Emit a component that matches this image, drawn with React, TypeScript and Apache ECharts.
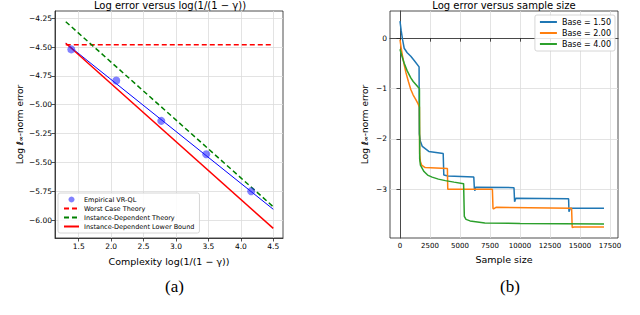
import React, { useEffect, useRef } from "react";
import * as echarts from "echarts";

// ---- Panel (a) data ----
const empX = [1.386, 2.079, 2.773, 3.466, 4.159];
const empY = [-4.52, -4.79, -5.14, -5.43, -5.75];
const lineX = [1.3, 4.5];
const fitY = [-4.467, -5.907];
const worstY = [-4.48, -4.48];
const instY = [-4.28, -5.885];
const lowerY = [-4.467, -6.072];
const aXTicks = [1.5, 2.0, 2.5, 3.0, 3.5, 4.0, 4.5];
const aYTicks = [-6.0, -5.75, -5.5, -5.25, -5.0, -4.75, -4.5, -4.25];

// ---- Panel (b) data ----
const b15X = [0, 100, 215, 350, 600, 900, 1200, 1590, 1610, 1700, 1860, 2400, 3000, 3600, 3650, 4000, 6150, 6200, 6250, 6300, 9500, 9550, 9650, 14050, 14080, 14200, 17000];
const b15Y = [0.34, 0.15, -0.03, -0.2, -0.29, -0.36, -0.45, -0.57, -1.9, -2.05, -2.15, -2.25, -2.27, -2.29, -2.72, -2.74, -2.76, -3.0, -3.03, -2.96, -2.97, -3.25, -3.18, -3.19, -3.45, -3.38, -3.38];
const b20X = [0, 100, 215, 350, 500, 700, 900, 1100, 1320, 1500, 1620, 1640, 1700, 1800, 2100, 3000, 3950, 3980, 7700, 7750, 7800, 8000, 14300, 14350, 14500, 17000];
const b20Y = [-0.03, -0.2, -0.36, -0.53, -0.69, -0.86, -1.02, -1.13, -1.22, -1.3, -1.37, -2.3, -2.45, -2.52, -2.57, -2.58, -2.59, -3.0, -3.0, -3.38, -3.39, -3.36, -3.38, -3.76, -3.75, -3.75];
const b40X = [0, 150, 350, 600, 900, 1100, 1320, 1500, 1620, 1640, 1700, 2000, 2300, 2680, 3200, 3780, 4500, 5300, 5360, 5500, 5840, 7070, 10000, 17000];
const b40Y = [-0.22, -0.35, -0.5, -0.65, -0.79, -0.86, -0.92, -0.97, -1.0, -2.4, -2.52, -2.65, -2.72, -2.76, -2.8, -2.83, -2.86, -2.89, -3.54, -3.6, -3.63, -3.67, -3.68, -3.69];
const bXTicks = [0, 2500, 5000, 7500, 10000, 12500, 15000, 17500];
const bYTicks = [-3, -2, -1, 0];

const zip = (xs: number[], ys: number[]) => xs.map((x, i) => [x, ys[i]]);
const minus = (s: string) => s.replace("-", "\u2212");

const FONT = "DejaVu Sans";

export default function App() {
  const ref = useRef<HTMLDivElement>(null);
  useEffect(() => {
    document.body.style.margin = "0";
    const chart = echarts.init(ref.current!, null, { renderer: "svg" });
    const gridLine = { show: true, lineStyle: { color: "#dcdcdc", width: 0.8 } };
    const tick = { show: true, inside: false, length: 3.5, lineStyle: { color: "#222", width: 0.8 } };
    const axLine = { show: true, lineStyle: { color: "#222", width: 0.8 } };
    const yName = "Log {l|\u2113}{s|\u221e}-norm error";
    const yNameStyle = (fs: number) => ({
      fontFamily: FONT,
      fontSize: fs,
      color: "#000",
      rich: {
        l: { fontSize: fs, fontWeight: "bold", fontStyle: "italic", fontFamily: FONT, color: "#000" },
        s: { fontSize: fs * 0.65, fontWeight: "bold", fontFamily: FONT, color: "#000", verticalAlign: "bottom" },
      },
    });
    const hideSym = { opacity: 0 };
    chart.setOption({
      animation: false,
      textStyle: { fontFamily: FONT },
      title: [
        { text: "Log error versus log(1/(1 \u2212 \u03b3))", left: 170, top: 0, padding: 0, textAlign: "center", textStyle: { fontSize: 10, fontWeight: "normal", color: "#000", fontFamily: FONT } },
        { text: "Log error versus sample size", left: 504, top: 0, padding: 0, textAlign: "center", textStyle: { fontSize: 10, fontWeight: "normal", color: "#000", fontFamily: FONT } },
      ],
      grid: [
        { left: 55, top: 11, width: 228, height: 227, show: true, borderColor: "#222", borderWidth: 0.8, backgroundColor: "transparent" },
        { left: 390, top: 11, width: 228, height: 227, show: true, borderColor: "#222", borderWidth: 0.8, backgroundColor: "transparent" },
      ],
      xAxis: [
        {
          type: "value", gridIndex: 0, min: 1.134, max: 4.65,
          name: "Complexity log(1/(1 \u2212 \u03b3))", nameLocation: "middle", nameGap: 18,
          nameTextStyle: { fontSize: 9.5, color: "#000", fontFamily: FONT },
          axisLine: axLine, axisTick: { ...tick, customValues: aXTicks },
          axisLabel: { customValues: aXTicks, fontSize: 7.5, color: "#000", margin: 4, formatter: (v: number) => v.toFixed(1) },
          splitLine: gridLine,
        },
        {
          type: "value", gridIndex: 1, min: -833, max: 18167,
          name: "Sample size", nameLocation: "middle", nameGap: 16,
          nameTextStyle: { fontSize: 9.5, color: "#000", fontFamily: FONT },
          axisLine: axLine, axisTick: { ...tick, customValues: bXTicks },
          axisLabel: { customValues: bXTicks, fontSize: 7, color: "#000", margin: 4, formatter: (v: number) => String(v) },
          splitLine: gridLine,
        },
      ],
      yAxis: [
        {
          type: "value", gridIndex: 0, min: -6.156, max: -4.187,
          name: yName, nameLocation: "middle", nameGap: 31, nameRotate: 90,
          nameTextStyle: yNameStyle(9),
          axisLine: axLine, axisTick: { ...tick, customValues: aYTicks },
          axisLabel: { customValues: aYTicks, fontSize: 7.5, color: "#000", margin: 3, formatter: (v: number) => minus(v.toFixed(2)) },
          splitLine: gridLine,
        },
        {
          type: "value", gridIndex: 1, min: -3.97, max: 0.54,
          name: yName, nameLocation: "middle", nameGap: 21, nameRotate: 90,
          nameTextStyle: yNameStyle(9),
          axisLine: axLine, axisTick: { ...tick, customValues: bYTicks },
          axisLabel: { customValues: bYTicks, fontSize: 7.5, color: "#000", margin: 3, formatter: (v: number) => minus(String(v)) },
          splitLine: gridLine,
        },
      ],
      legend: [
        {
          data: [
            { name: "Empirical VR-QL" },
            { name: "Worst Case Theory", itemStyle: hideSym },
            { name: "Instance-Dependent Theory", itemStyle: hideSym },
            { name: "Instance-Dependent Lower Bound", itemStyle: hideSym },
          ],
          orient: "vertical", left: 58, top: 193, itemGap: 2, itemWidth: 15, itemHeight: 6,
          padding: [3, 5, 3, 5], backgroundColor: "rgba(255,255,255,0.85)", borderColor: "#cccccc", borderWidth: 0.8, borderRadius: 2,
          textStyle: { fontSize: 6.5, color: "#000", fontFamily: FONT },
        },
        {
          data: [
            { name: "Base = 1.50", itemStyle: hideSym },
            { name: "Base = 2.00", itemStyle: hideSym },
            { name: "Base = 4.00", itemStyle: hideSym },
          ],
          orient: "vertical", right: 25, top: 15, itemGap: 3, itemWidth: 17, itemHeight: 6,
          padding: [3, 4, 3, 4], backgroundColor: "rgba(255,255,255,0.85)", borderColor: "#cccccc", borderWidth: 0.8, borderRadius: 2,
          textStyle: { fontSize: 8, color: "#000", fontFamily: FONT },
        },
      ],
      series: [
        { name: "Empirical VR-QL", type: "scatter", xAxisIndex: 0, yAxisIndex: 0, data: zip(empX, empY), symbol: "circle", symbolSize: 8, itemStyle: { color: "rgba(30,30,255,0.7)" }, z: 5 },
        { name: "fit", type: "line", xAxisIndex: 0, yAxisIndex: 0, data: zip(lineX, fitY), symbol: "none", lineStyle: { color: "#0000ff", width: 1 } },
        { name: "Worst Case Theory", type: "line", xAxisIndex: 0, yAxisIndex: 0, data: zip(lineX, worstY), symbol: "none", itemStyle: { color: "#ff0000" }, lineStyle: { color: "#ff0000", width: 1.5, type: [5, 3] } },
        { name: "Instance-Dependent Theory", type: "line", xAxisIndex: 0, yAxisIndex: 0, data: zip(lineX, instY), symbol: "none", itemStyle: { color: "#008000" }, lineStyle: { color: "#008000", width: 1.5, type: [5, 3] } },
        { name: "Instance-Dependent Lower Bound", type: "line", xAxisIndex: 0, yAxisIndex: 0, data: zip(lineX, lowerY), symbol: "none", itemStyle: { color: "#ff0000" }, lineStyle: { color: "#ff0000", width: 1.5 } },
        { name: "Base = 1.50", type: "line", xAxisIndex: 1, yAxisIndex: 1, data: zip(b15X, b15Y), symbol: "none", itemStyle: { color: "#1f77b4" }, lineStyle: { color: "#1f77b4", width: 1.5 } },
        { name: "Base = 2.00", type: "line", xAxisIndex: 1, yAxisIndex: 1, data: zip(b20X, b20Y), symbol: "none", itemStyle: { color: "#ff7f0e" }, lineStyle: { color: "#ff7f0e", width: 1.5 } },
        { name: "Base = 4.00", type: "line", xAxisIndex: 1, yAxisIndex: 1, data: zip(b40X, b40Y), symbol: "none", itemStyle: { color: "#2ca02c" }, lineStyle: { color: "#2ca02c", width: 1.5 } },
      ],
      graphic: [
        { type: "text", left: 165, top: 278, style: { text: "(a)", x: 0, fontSize: 17, fontFamily: "Liberation Serif", fill: "#000", textAlign: "center" } },
        { type: "text", left: 500, top: 278, style: { text: "(b)", x: 0, fontSize: 17, fontFamily: "Liberation Serif", fill: "#000", textAlign: "center" } },
      ],
    });
    return () => chart.dispose();
  }, []);
  return <div ref={ref} style={{ width: 640, height: 315 }} />;
}
